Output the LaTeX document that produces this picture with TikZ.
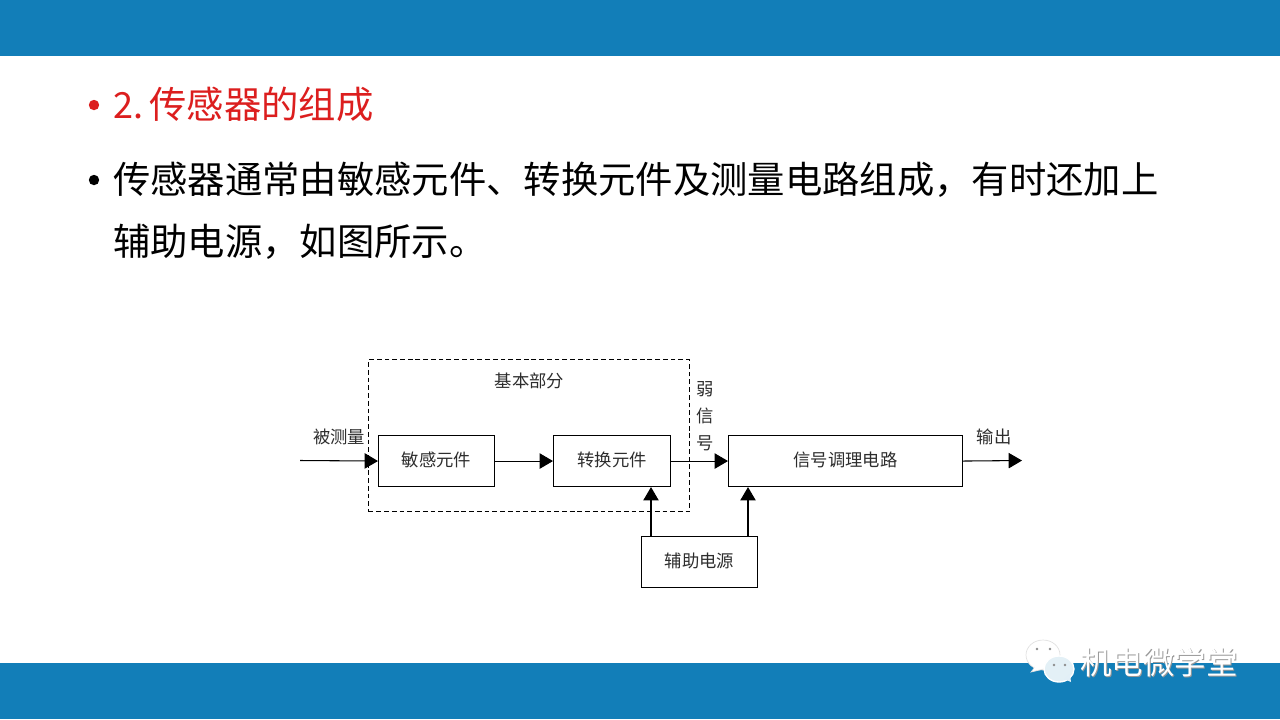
\documentclass[tikz,border=0pt]{standalone}
\usepackage{fontspec}
\setmainfont{Liberation Sans}
\newfontfamily\cjk{Noto Sans CJK SC}
\definecolor{barblue}{RGB}{18,126,184}
\definecolor{headred}{RGB}{220,30,30}
\definecolor{labelgray}{RGB}{45,45,45}
\usetikzlibrary{arrows.meta}
\tikzset{
 x=0.75pt,y=-0.75pt,
 bar/.style={fill=barblue,draw=none},
 blockbox/.style={draw=black,line width=0.8pt,fill=white,minimum height=38.25pt,inner sep=0pt,font=\cjk\fontsize{13}{13}\selectfont,text=labelgray,anchor=north west,text depth=1.5pt,text height=10pt},
 arr/.style={line width=0.8pt,-{Triangle[length=10pt,width=11.5pt,fill=black]}},
 lbl/.style={inner sep=0pt,font=\cjk\fontsize{13}{13}\selectfont,text=labelgray},
 bodyline/.style={inner sep=0pt,anchor=west,font=\cjk\fontsize{28}{28}\selectfont},
 wm/.style={inner sep=0pt,anchor=west,font=\cjk\fontsize{23.6}{24}\selectfont,text=white},
}
\begin{document}
\begin{tikzpicture}
\useasboundingbox (0,0) rectangle (1280,719);
\fill[white] (0,0) rectangle (1280,719);
\fill[bar] (0,0) rectangle (1280,56);
\fill[bar] (0,663) rectangle (1280,719);
% bullets
\fill[headred] (94,105) circle (5.2);
\fill[black] (94,180) circle (5.2);
% text
\node[bodyline,text=headred] (head) at (113,104) {\fontsize{27}{27}\selectfont 2.\kern4.7pt{\cjk\fontsize{28}{28}\selectfont 传感器的组成}};
\node[bodyline] (l1) at (113,180) {传感器通常由敏感元件、转换元件及测量电路组成，有时还加上};
\node[bodyline] (l2) at (113,242) {辅助电源，如图所示。};
% dashed group
\node[draw=black,dash pattern=on 3.6pt off 2.2pt,line width=1pt,inner sep=0pt,minimum width=240.75pt,minimum height=114pt,anchor=north west] (group) at (368,359) {};
\node[lbl] (gl) at (529.5,381) {基本部分};
% blocks
\node[blockbox,minimum width=87pt] (sens) at (378,435) {敏感元件};
\node[blockbox,minimum width=87.75pt] (conv) at (553,435) {转换元件};
\node[blockbox,minimum width=175.5pt] (cond) at (728,435) {信号调理电路};
\node[blockbox,minimum width=87pt] (aux) at (641,536) {辅助电源};
% connectors
\coordinate (inp) at (300,460.5);
\coordinate (outp) at (1022,460.5);
\draw[arr] (inp) -- (sens.west);
\draw[arr] (sens.east) -- (conv.west);
\draw[arr] (conv.east) -- (cond.west);
\draw[arr] (cond.east) -- (outp);
\coordinate (a1) at (651,536);
\coordinate (a2) at (748,536);
\draw[arr] (a1) -- (a1 |- conv.south);
\draw[arr] (a2) -- (a2 |- cond.south);
% labels
\node[lbl] (in) at (339,437) {被测量};
\node[lbl] (out) at (994,436.5) {输出};
\node[lbl] (w1) at (705,389) {弱};
\node[lbl] (w2) at (705,416) {信};
\node[lbl] (w3) at (705,443) {号};
% watermark
\begin{scope}
\draw[black!12,fill=white,line width=0.5pt] (1043,655) ellipse (17 and 15);
\draw[black!12,fill=white,line width=0.5pt] (1036,666) -- (1031,672) -- (1044,669);
\fill[white] (1036,664) -- (1033,670.5) -- (1044,667.5) -- cycle;
\fill[black!45] (1037,649) circle (1.4);
\fill[black!45] (1050,649) circle (1.4);
\draw[white,line width=1pt,fill=white!88!barblue] (1059,669) ellipse (15 and 13);
\fill[white!88!barblue] (1064,679) -- (1071,682) -- (1070,674) -- cycle;
\fill[black!45] (1054,665) circle (1.4);
\fill[black!45] (1065,665) circle (1.4);
\end{scope}
\node[wm,text=black!40] (wms) at (1081,663) {机电微学堂};
\node[wm] (wmt) at (1080,662) {机电微学堂};
\end{tikzpicture}
\end{document}
